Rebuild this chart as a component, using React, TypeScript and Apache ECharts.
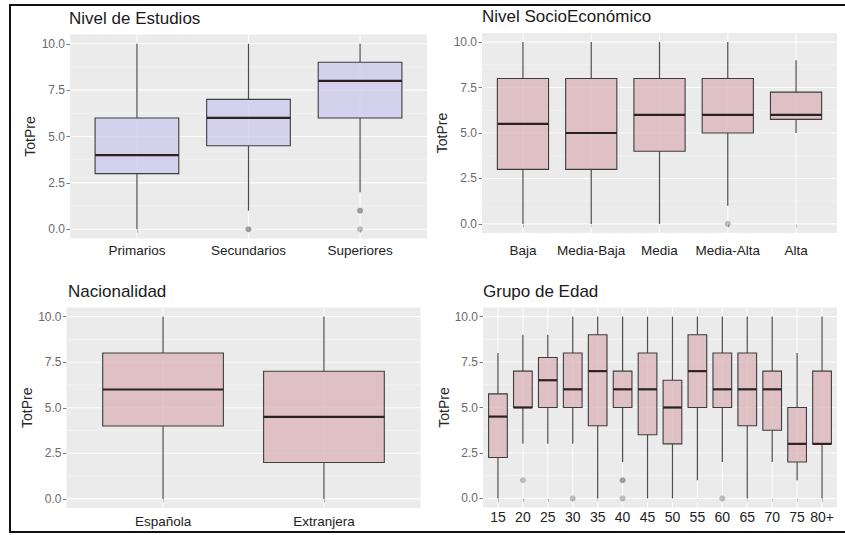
import React, { useEffect, useRef } from 'react';
import * as echarts from 'echarts';

// Box summaries are [min, Q1, median, Q3, max] (whisker ends and hinges).
// Outliers are [category index, value, number of overlapping points].

const estudiosCats = ['Primarios', 'Secundarios', 'Superiores'];
const estudiosBoxes = [
  [0, 3, 4, 6, 10],
  [1, 4.5, 6, 7, 10],
  [2, 6, 8, 9, 10],
];
const estudiosOutliers = [
  [1, 0, 2],
  [2, 1, 2],
  [2, 0, 1],
];

const socioCats = ['Baja', 'Media-Baja', 'Media', 'Media-Alta', 'Alta'];
const socioBoxes = [
  [0, 3, 5.5, 8, 10],
  [0, 3, 5, 8, 10],
  [0, 4, 6, 8, 10],
  [1, 5, 6, 8, 10],
  [5, 5.75, 6, 7.25, 9],
];
const socioOutliers = [[3, 0, 1]];

const nacionCats = ['Española', 'Extranjera'];
const nacionBoxes = [
  [0, 4, 6, 8, 10],
  [0, 2, 4.5, 7, 10],
];
const nacionOutliers: number[][] = [];

const edadCats = ['15', '20', '25', '30', '35', '40', '45', '50', '55', '60', '65', '70', '75', '80+'];
const edadBoxes = [
  [0, 2.25, 4.5, 5.75, 8],
  [3, 5, 5, 7, 9],
  [3, 5, 6.5, 7.75, 9],
  [3, 5, 6, 8, 10],
  [0, 4, 7, 9, 10],
  [2, 5, 6, 7, 10],
  [0, 3.5, 6, 8, 10],
  [0, 3, 5, 6.5, 10],
  [1, 5, 7, 9, 10],
  [2, 5, 6, 8, 10],
  [0, 4, 6, 8, 10],
  [2, 3.75, 6, 7, 10],
  [1, 2, 3, 5, 8],
  [0, 3, 3, 7, 10],
];
const edadOutliers = [
  [1, 1, 1],
  [3, 0, 1],
  [5, 1, 2],
  [5, 0, 1],
  [9, 0, 1],
];

const yMajorTicks = [0, 2.5, 5, 7.5, 10];
const yMinorTicks = [1.25, 3.75, 6.25, 8.75];
const yAxisTitle = 'TotPre';

// Styling
const FONT = '"Liberation Sans", Arial, sans-serif';
const PANEL_BG = '#EBEBEB';
const LAVENDER = 'rgba(201,198,235,0.72)';
const ROSE = 'rgba(218,176,181,0.72)';
const BOX_WIDTH = 0.75;

interface Panel {
  title: string;
  cats: string[];
  boxes: number[][];
  outliers: number[][];
  fill: string;
  grid: { left: number; top: number; width: number; height: number };
  titlePos: { left: number; top: number };
  nameGap: number;
  labelMargin: number;
  xFont: number;
}

const panels: Panel[] = [
  {
    title: 'Nivel de Estudios',
    cats: estudiosCats,
    boxes: estudiosBoxes,
    outliers: estudiosOutliers,
    fill: LAVENDER,
    grid: { left: 70, top: 34.5, width: 357, height: 204 },
    titlePos: { left: 69, top: 9.5 },
    nameGap: 33,
    labelMargin: 5,
    xFont: 13.5,
  },
  {
    title: 'Nivel SocioEconómico',
    cats: socioCats,
    boxes: socioBoxes,
    outliers: socioOutliers,
    fill: ROSE,
    grid: { left: 482, top: 33, width: 355, height: 200 },
    titlePos: { left: 482, top: 8 },
    nameGap: 33,
    labelMargin: 10,
    xFont: 13.5,
  },
  {
    title: 'Nacionalidad',
    cats: nacionCats,
    boxes: nacionBoxes,
    outliers: nacionOutliers,
    fill: ROSE,
    grid: { left: 66.5, top: 307.5, width: 354, height: 200.5 },
    titlePos: { left: 68, top: 283 },
    nameGap: 31,
    labelMargin: 6,
    xFont: 13.5,
  },
  {
    title: 'Grupo de Edad',
    cats: edadCats,
    boxes: edadBoxes,
    outliers: edadOutliers,
    fill: ROSE,
    grid: { left: 483, top: 307.5, width: 354, height: 200 },
    titlePos: { left: 483, top: 283 },
    nameGap: 31,
    labelMargin: 2,
    xFont: 14,
  },
];

function buildOption() {
  const grid: any[] = [];
  const xAxis: any[] = [];
  const yAxis: any[] = [];
  const series: any[] = [];
  const title: any[] = [];

  panels.forEach((p, i) => {
    const n = p.cats.length;
    const catPositions = p.cats.map((_, k) => k + 1);

    title.push({
      text: p.title,
      left: p.titlePos.left,
      top: p.titlePos.top,
      padding: 0,
      textStyle: { fontFamily: FONT, fontSize: 17, fontWeight: 'normal', color: '#1a1a1a' },
    });

    grid.push({
      ...p.grid,
      show: true,
      backgroundColor: PANEL_BG,
      borderWidth: 0,
    });

    xAxis.push({
      type: 'value',
      gridIndex: i,
      min: 1 - 0.6,
      max: n + 0.6,
      axisLine: { show: false },
      splitLine: { show: false },
      axisTick: {
        show: true,
        length: 3.5,
        customValues: catPositions,
        lineStyle: { color: '#7a7a7a', width: 1 },
      },
      axisLabel: {
        customValues: catPositions,
        margin: p.labelMargin,
        fontFamily: FONT,
        fontSize: p.xFont,
        color: '#222222',
        formatter: (v: number) => p.cats[Math.round(v) - 1] ?? '',
      },
    });

    yAxis.push({
      type: 'value',
      gridIndex: i,
      min: -0.5,
      max: 10.5,
      name: yAxisTitle,
      nameLocation: 'middle',
      nameRotate: 90,
      nameGap: p.nameGap,
      nameTextStyle: { fontFamily: FONT, fontSize: 14, color: '#262626' },
      axisLine: { show: false },
      splitLine: { show: false },
      axisTick: {
        show: true,
        length: 3.5,
        customValues: yMajorTicks,
        lineStyle: { color: '#7a7a7a', width: 1 },
      },
      axisLabel: {
        customValues: yMajorTicks,
        margin: 5,
        fontFamily: FONT,
        fontSize: 12,
        color: '#6a6a6a',
        formatter: (v: number) => v.toFixed(1),
      },
    });

    // Panel grid lines: [orientation (0 = horizontal, 1 = vertical), value, isMajor]
    const gridLines = [
      ...yMinorTicks.map((v) => [0, v, 0]),
      ...yMajorTicks.map((v) => [0, v, 1]),
      ...catPositions.map((v) => [1, v, 1]),
    ];
    series.push({
      type: 'custom',
      xAxisIndex: i,
      yAxisIndex: i,
      silent: true,
      z: 1,
      data: gridLines,
      renderItem: (params: any, api: any) => {
        const cs = params.coordSys;
        const orient = api.value(0);
        const v = api.value(1);
        const major = api.value(2) === 1;
        const style = {
          stroke: major ? 'rgba(255,255,255,0.85)' : 'rgba(255,255,255,0.6)',
          lineWidth: major ? 1.1 : 0.6,
        };
        if (orient === 0) {
          const y = api.coord([1, v])[1];
          return { type: 'line', shape: { x1: cs.x, y1: y, x2: cs.x + cs.width, y2: y }, style };
        }
        const x = api.coord([v, 0])[0];
        return { type: 'line', shape: { x1: x, y1: cs.y, x2: x, y2: cs.y + cs.height }, style };
      },
    });

    // Boxes with whiskers and medians
    series.push({
      type: 'custom',
      xAxisIndex: i,
      yAxisIndex: i,
      z: 2,
      data: p.boxes.map((b, k) => [k + 1, ...b]),
      renderItem: (_params: any, api: any) => {
        const x = api.value(0);
        const cx = api.coord([x, 0])[0];
        const yMin = api.coord([x, api.value(1)])[1];
        const yQ1 = api.coord([x, api.value(2)])[1];
        const yMed = api.coord([x, api.value(3)])[1];
        const yQ3 = api.coord([x, api.value(4)])[1];
        const yMax = api.coord([x, api.value(5)])[1];
        const half = api.size([BOX_WIDTH, 0])[0] / 2;
        const whisker = { stroke: '#4d4d4d', lineWidth: 1.2 };
        return {
          type: 'group',
          children: [
            { type: 'line', shape: { x1: cx, y1: yQ3, x2: cx, y2: yMax }, style: whisker },
            { type: 'line', shape: { x1: cx, y1: yQ1, x2: cx, y2: yMin }, style: whisker },
            {
              type: 'rect',
              shape: { x: cx - half, y: yQ3, width: half * 2, height: yQ1 - yQ3 },
              style: { fill: p.fill, stroke: '#3d3d3d', lineWidth: 1.1 },
            },
            {
              type: 'line',
              shape: { x1: cx - half, y1: yMed, x2: cx + half, y2: yMed },
              style: { stroke: '#2a2222', lineWidth: 2.2 },
            },
          ],
        };
      },
    });

    // Outlying points; overlapping points read darker
    series.push({
      type: 'scatter',
      xAxisIndex: i,
      yAxisIndex: i,
      z: 3,
      symbol: 'circle',
      symbolSize: 6,
      silent: true,
      data: p.outliers.map((o) => [o[0] + 1, o[1], o[2]]),
      itemStyle: {
        color: (params: any) => {
          const count = params.value[2];
          const alpha = 1 - Math.pow(1 - 0.45, count);
          return `rgba(90,90,90,${alpha.toFixed(2)})`;
        },
      },
    });
  });

  return {
    animation: false,
    backgroundColor: '#ffffff',
    title,
    grid,
    xAxis,
    yAxis,
    series,
    graphic: [
      {
        type: 'rect',
        silent: true,
        shape: { x: 10, y: 5, width: 840, height: 527 },
        style: { fill: 'none', stroke: '#111111', lineWidth: 2 },
        z: 100,
      },
    ],
  };
}

export default function App() {
  const ref = useRef<HTMLDivElement>(null);

  useEffect(() => {
    if (!ref.current) return;
    const chart = echarts.init(ref.current, null, { renderer: 'svg' });
    chart.setOption(buildOption() as any);
    return () => chart.dispose();
  }, []);

  return (
    <div
      ref={ref}
      style={{ position: 'fixed', left: 0, top: 0, width: 845, height: 535, background: '#ffffff' }}
    />
  );
}
